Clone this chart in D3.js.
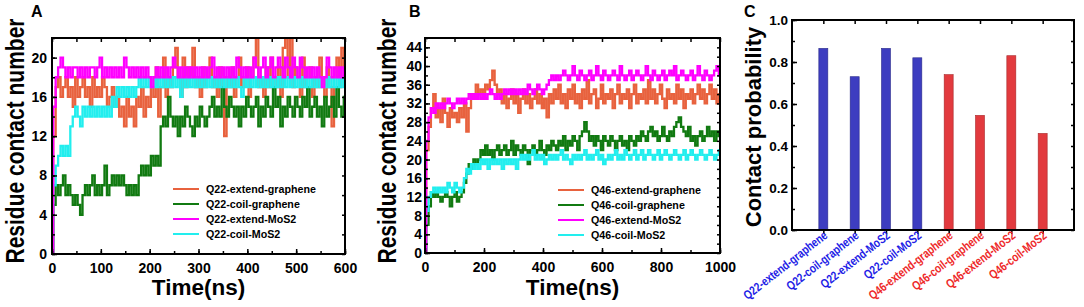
<!DOCTYPE html>
<html>
<head>
<meta charset="utf-8">
<script src="https://cdn.jsdelivr.net/npm/d3@7"></script>
<style>
  body { margin: 0; background: #fff; }
  svg { display: block; }
  text { font-family: "Liberation Sans", Arial, sans-serif; font-weight: bold; }
</style>
</head>
<body>
<svg width="1084" height="307"></svg>
<script>
// ---- data ----
// panel A: Q22, sampled every 5 ns from 0 to 600 ns
const stepA = 5;
const namesA = ["Q22-extend-graphene", "Q22-coil-graphene", "Q22-extend-MoS2", "Q22-coil-MoS2"];
const q22ExtGraphene = [0,12,17,18,16,17,18,16,17,15, 18,16,17,18,16,17,15,18,16,17,
  16,18,17,15,16,17,15,16,14,15, 13,16,14,15,13,16,15,17,14,16, 15,17,16,19,14,17,20,16,18,17,
  19,21,18,16,20,17,19,18,21,17, 18,16,19,17,18,20,17,18,16,19, 17,12,18,17,19,16,18,20,17,18,
  19,16,18,20,22,17,18,16,19,17, 20,18,17,19,16,21,22,18,22,17, 19,18,16,20,17,18,19,16,18,17,
  20,18,16,19,17,13,18,20,17,21, 19];
const q22CoilGraphene = [0,5,7,6,7,8,6,7,6,5, 6,5,4,6,7,6,7,8,6,7, 6,7,9,6,7,8,7,8,7,8,
  7,6,7,6,7,6,8,9,8,9, 8,10,9,10,9,13,14,13,16,14, 13,14,12,14,13,15,14,13,12,14,
  13,15,14,13,14,15,16,14,15,14, 17,15,14,16,15,14,15,13,15,14, 16,15,14,15,16,13,15,14,16,15,
  14,17,15,16,13,15,14,16,15,14, 16,15,14,16,15,17,14,15,16,14, 15,13,16,14,15,16,14,17,15,14, 16];
const q22ExtMoS2 = [0,15,18,19,20,19,18,19,18,19, 19,18,19,18,19,18,19,19,18,19,
  20,18,19,18,19,18,19,18,19,18, 20,19,18,19,18,19,18,19,18,19, 18,17,18,19,18,19,18,19,18,19,
  20,19,18,19,18,19,18,19,18,19, 18,19,18,19,18,19,20,18,19,18, 19,18,19,18,19,18,20,19,18,19,
  18,19,18,20,19,18,19,20,18,19, 20,18,19,20,19,18,20,19,18,20, 19,18,20,19,18,19,18,19,18,19,
  18,17,18,20,19,18,19,18,19,18, 19];
const q22CoilMoS2 = [0,7,9,10,11,10,11,10,13,14, 15,14,13,15,14,15,14,15,14,15,
  14,15,14,15,14,16,15,17,16,17, 16,17,16,17,16,17,18,17,18,17, 18,17,18,17,18,17,18,17,18,17,
  18,17,18,16,18,17,18,17,18,17, 18,17,18,17,18,17,18,17,18,17, 18,17,18,17,18,17,18,17,16,18,
  17,18,17,18,17,18,17,18,17,18, 17,18,17,18,17,18,17,18,17,18, 17,18,17,18,17,18,17,18,17,18,
  17,18,17,18,17,18,17,18,17,18, 17];
const ticksAx = [0, 100, 200, 300, 400, 500, 600];
const ticksAy = [0, 4, 8, 12, 16, 20];

// panel B: Q46, sampled every 8 ns from 0 to 1000 ns
const stepB = 8;
const namesB = ["Q46-extend-graphene", "Q46-coil-graphene", "Q46-extend-MoS2", "Q46-coil-MoS2"];
const q46ExtGraphene = [0,22,27,31,34,29,31,28,33,30, 27,31,29,30,28,31,29,32,26,31,
  34,33,36,34,35,33,36,35,37,39, 36,34,35,32,34,31,33,35,32,34, 30,33,35,32,34,31,33,35,32,34,
  31,33,29,34,32,35,33,36,32,34, 31,35,33,36,32,34,31,35,33,37, 32,34,35,31,33,36,32,34,33,35,
  31,34,36,32,34,33,35,31,34,36, 32,34,33,35,32,37,33,35,32,34, 36,33,31,35,33,34,32,36,33,35,
  31,34,33,35,32,34,36,33,35,32, 34,36,33,35,32,34];
const q46CoilGraphene = [0,6,10,13,12,13,12,11,12,13, 12,10,12,13,11,12,13,15,17,19,
  18,20,19,20,22,21,23,21,22,20, 22,23,21,22,23,21,22,24,21,23, 22,21,23,22,19,22,23,21,22,24,
  22,21,23,22,24,23,22,24,23,25, 22,24,23,25,24,22,25,26,28,26, 24,25,23,25,24,22,25,24,23,25,
  24,22,24,25,23,24,22,25,24,23, 25,24,26,25,24,26,27,25,26,24, 25,27,25,24,26,25,27,28,29,27,
  26,25,27,24,25,23,25,26,24,25, 27,25,26,24,26,25];
const q46ExtMoS2 = [0,24,29,31,30,32,31,32,31,32, 33,32,31,32,33,32,33,32,33,34,
  33,34,33,34,33,34,33,34,35,34, 33,34,33,34,35,34,35,34,35,34, 35,34,35,34,36,35,34,35,36,35,
  34,35,36,37,38,37,38,37,38,39, 38,37,38,40,38,37,39,38,37,38, 39,37,38,40,38,37,39,38,37,38,
  39,38,37,40,38,37,38,39,37,38, 39,38,37,38,40,38,37,39,38,37, 38,39,37,38,39,38,40,37,38,39,
  38,37,38,39,37,38,40,38,37,39, 38,37,38,39,40,38];
const q46CoilMoS2 = [0,9,12,13,14,13,14,13,14,13, 15,14,13,15,14,13,14,16,18,17,
  19,18,19,18,20,19,20,18,20,19, 20,19,20,18,20,19,20,19,20,18, 20,21,20,21,20,21,22,20,21,20,
  21,19,20,21,20,21,20,21,22,20, 21,20,19,21,20,21,20,21,22,20, 21,20,21,22,20,21,19,20,21,20,
  21,22,20,21,20,22,21,20,21,22, 20,21,22,20,21,22,21,20,21,22, 20,21,22,21,20,21,22,21,20,21,
  22,20,21,22,21,20,21,22,21,20, 21,22,21,20,21,22];
const ticksBx = [0, 200, 400, 600, 800, 1000];
const ticksBy = [0, 4, 8, 12, 16, 20, 24, 28, 32, 36, 40, 44];

// panel C: contact probability
const probNames = ["Q22-extend-graphene", "Q22-coil-graphene", "Q22-extend-MoS2", "Q22-coil-MoS2",
  "Q46-extend-graphene", "Q46-coil-graphene", "Q46-extend-MoS2", "Q46-coil-MoS2"];
const probValues = [0.865, 0.73, 0.865, 0.82, 0.74, 0.546, 0.83, 0.46];
const ticksCy = [0, 0.2, 0.4, 0.6, 0.8, 1.0];

// trace colours in legend order
const traceColors = ["#e8623e", "#117a11", "#ff00ff", "#22eeee"];

var svg = d3.select("svg");

function addAxis(g, ax, tx, ty, size) {
  var a = g.append("g").attr("transform", "translate(" + tx + "," + ty + ")").call(ax);
  a.select(".domain").remove();
  a.selectAll("line").attr("stroke", "#000").attr("stroke-width", 1.5);
  a.selectAll("text").attr("font-family", "DejaVu Sans").attr("font-weight", "bold")
    .attr("font-size", size || 14).attr("fill", "#000");
  return a;
}

function range(a, b, s) { return d3.range(a, b + s / 2, s); }

function tracePanel(p) {
  var x = d3.scaleLinear().domain([0, p.xMax]).range([p.left, p.right]),
      y = d3.scaleLinear().domain([0, p.yMax]).range([p.bottom, p.top]);
  var g = svg.append("g");

  g.append("clipPath").attr("id", "clip" + p.id).append("rect")
    .attr("x", p.left).attr("y", p.top)
    .attr("width", p.right - p.left).attr("height", p.bottom - p.top);

  var line = d3.line()
    .x(function(d, i) { return x(i * p.step); })
    .y(function(d) { return y(d); })
    .curve(d3.curveStep);

  var traces = g.append("g").attr("clip-path", "url(#clip" + p.id + ")");
  [0, 1, 3, 2].forEach(function(k) {
    traces.append("path")
      .attr("d", line(p.series[k]))
      .attr("fill", "none")
      .attr("stroke", traceColors[k])
      .attr("stroke-width", 2.3)
      .attr("stroke-linejoin", "miter");
  });

  // inward ticks on all four sides
  addAxis(g, d3.axisBottom(x).tickValues(p.xTicks).tickFormat(d3.format("d")).tickSizeInner(-5).tickSizeOuter(0).tickPadding(9), 0, p.bottom);
  addAxis(g, d3.axisBottom(x).tickValues(range(0, p.xMax, p.xTicks[1] / 2)).tickSize(-3).tickFormat(""), 0, p.bottom);
  addAxis(g, d3.axisTop(x).tickValues(range(0, p.xMax, p.xTicks[1] / 2)).tickSize(-4).tickFormat(""), 0, p.top);
  addAxis(g, d3.axisLeft(y).tickValues(p.yTicks).tickSizeInner(-5).tickSizeOuter(0).tickPadding(p.yPad), p.left, 0);
  addAxis(g, d3.axisLeft(y).tickValues(range(0, p.yMax, 2)).tickSize(-3).tickFormat(""), p.left, 0);
  addAxis(g, d3.axisRight(y).tickValues(range(0, p.yMax, 2)).tickSize(-3).tickFormat(""), p.right, 0);

  g.append("rect")
    .attr("x", p.left).attr("y", p.top)
    .attr("width", p.right - p.left).attr("height", p.bottom - p.top)
    .attr("fill", "none").attr("stroke", "#000").attr("stroke-width", 2);

  // legend
  var leg = g.append("g");
  p.names.forEach(function(n, k) {
    var ly = p.legY + k * 15;
    leg.append("line")
      .attr("x1", p.legX).attr("x2", p.legX + 26).attr("y1", ly).attr("y2", ly)
      .attr("stroke", traceColors[k]).attr("stroke-width", 2);
    leg.append("text")
      .attr("x", p.legX + 33).attr("y", ly).attr("dy", "0.36em")
      .attr("font-family", "DejaVu Sans").attr("font-size", 10.7)
      .text(n);
  });

  g.append("text")
    .attr("x", (p.left + p.right) / 2).attr("y", 295)
    .attr("text-anchor", "middle").attr("font-size", 22.5)
    .text("Time(ns)");

  g.append("text")
    .attr("transform", "translate(" + p.yLabelX + ",141) scale(1.2,1) rotate(-90)")
    .attr("text-anchor", "middle").attr("dy", "0.35em").attr("font-size", 21)
    .text("Residue contact number");

  g.append("text")
    .attr("x", p.letterX).attr("y", 17).attr("font-size", 16)
    .text(p.id);
}

tracePanel({
  id: "A", left: 52, right: 345, top: 38, bottom: 254,
  xMax: 600, yMax: 22, step: stepA, xTicks: ticksAx, yTicks: ticksAy, yPad: 5,
  series: [q22ExtGraphene, q22CoilGraphene, q22ExtMoS2, q22CoilMoS2], names: namesA,
  legX: 173, legY: 189, yLabelX: 15, letterX: 31
});

tracePanel({
  id: "B", left: 425, right: 720, top: 38, bottom: 253,
  xMax: 1000, yMax: 46, step: stepB, xTicks: ticksBx, yTicks: ticksBy, yPad: 3,
  series: [q46ExtGraphene, q46CoilGraphene, q46ExtMoS2, q46CoilMoS2], names: namesB,
  legX: 558, legY: 190, yLabelX: 387, letterX: 409
});

// ---- panel C ----
(function() {
  var left = 792, right = 1074, top = 20, bottom = 230;
  var x = d3.scalePoint().domain(probNames).range([left, right]).padding(1),
      y = d3.scaleLinear().domain([0, 1]).range([bottom, top]);
  var g = svg.append("g");
  var isQ22 = function(n) { return n.indexOf("Q22") === 0; };

  g.selectAll(".bar")
    .data(probNames)
    .enter().append("rect")
      .attr("class", "bar")
      .attr("x", function(d) { return x(d) - 4.5; })
      .attr("width", 9)
      .attr("y", function(d, i) { return y(probValues[i]); })
      .attr("height", function(d, i) { return bottom - y(probValues[i]); })
      .attr("fill", function(d) { return isQ22(d) ? "#3d3dc0" : "#e23a3e"; })
      .attr("stroke", function(d) { return isQ22(d) ? "#2b2b8a" : "#a82a2c"; })
      .attr("stroke-width", 0.6);

  addAxis(g, d3.axisLeft(y).tickValues(ticksCy).tickFormat(d3.format(".1f")).tickSizeInner(-5).tickSizeOuter(0).tickPadding(4), left, 0, 13.5);
  addAxis(g, d3.axisLeft(y).tickValues(range(0, 1, 0.1)).tickSize(-3).tickFormat(""), left, 0);
  addAxis(g, d3.axisRight(y).tickValues(range(0, 1, 0.1)).tickSize(-3).tickFormat(""), right, 0);
  addAxis(g, d3.axisTop(x).tickSize(-4).tickFormat(""), 0, top);
  addAxis(g, d3.axisBottom(x).tickSize(4).tickFormat(""), 0, bottom);

  g.append("rect")
    .attr("x", left).attr("y", top)
    .attr("width", right - left).attr("height", bottom - top)
    .attr("fill", "none").attr("stroke", "#000").attr("stroke-width", 2);

  g.selectAll(".cat")
    .data(probNames)
    .enter().append("text")
      .attr("class", "cat")
      .attr("transform", function(d) { return "translate(" + (x(d) + 5) + "," + (bottom + 7) + ") rotate(-38) scale(0.8,1)"; })
      .attr("text-anchor", "end")
      .attr("font-size", 12.5)
      .attr("fill", function(d) { return isQ22(d) ? "#1e1ee6" : "#ee2a2a"; })
      .text(function(d) { return d; });

  g.append("text")
    .attr("transform", "translate(753,127) rotate(-90)")
    .attr("text-anchor", "middle").attr("dy", "0.35em").attr("font-size", 22)
    .text("Contact probability");

  g.append("text").attr("x", 744).attr("y", 17).attr("font-size", 16).text("C");
})();
</script>
</body>
</html>
